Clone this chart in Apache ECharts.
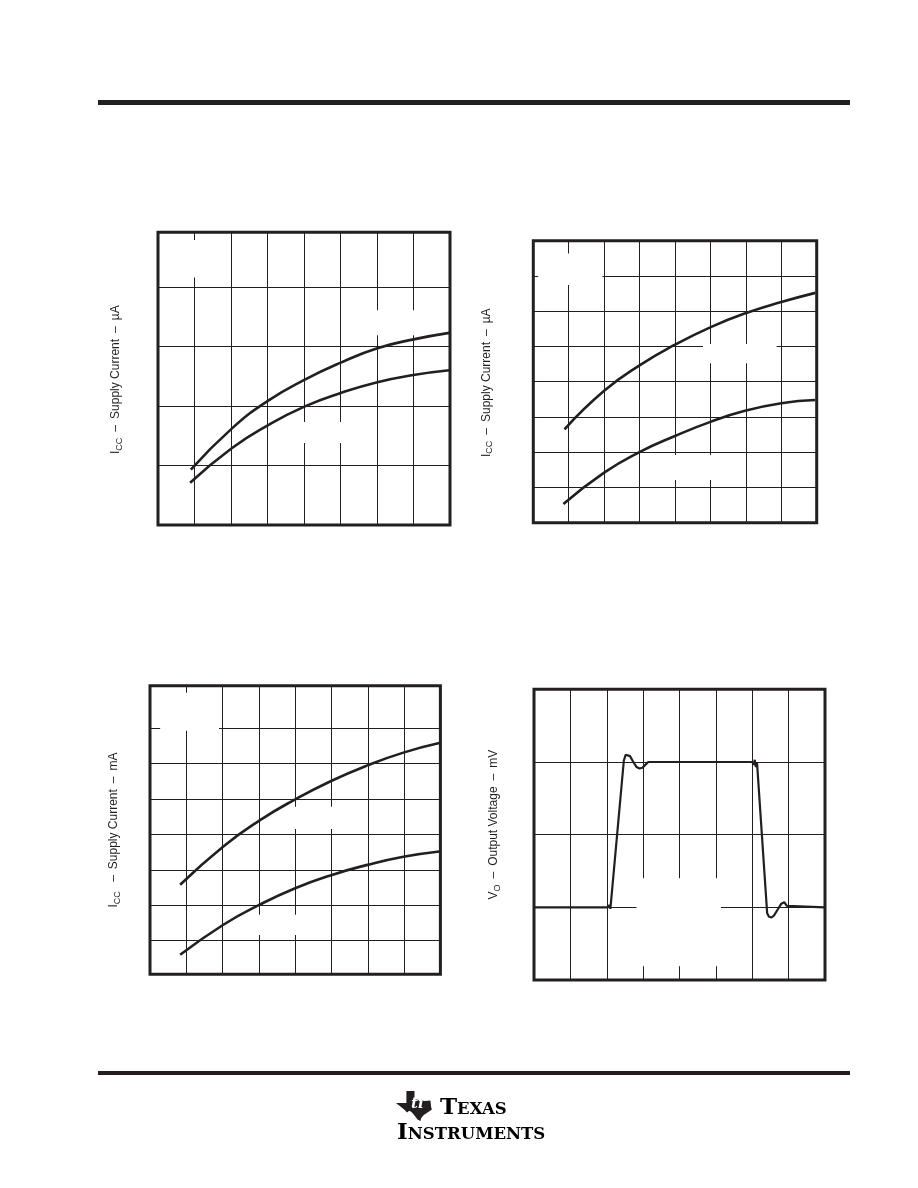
<!DOCTYPE html>
<html><head><meta charset="utf-8">
<script src="https://cdn.jsdelivr.net/npm/echarts@6/dist/echarts.min.js"></script>
<style>html,body{margin:0;padding:0;background:#fff}#c{width:918px;height:1188px}</style>
</head><body><div id="c"></div>
<script>
const ink = '#231f20';

// ---- Chart 1 (top-left): ICC – µA, two curves (x,y in grid divisions)
const c1Upper = [[0.9,0.93],[2.02,1.62],[3.02,2.09],[4.01,2.44],[5.01,2.73],[6.01,2.97],[7.0,3.12],[7.98,3.23]];
const c1Lower = [[0.88,0.71],[2.02,1.29],[3.02,1.68],[4.01,1.99],[5.01,2.22],[6.01,2.4],[7.0,2.52],[7.98,2.6]];
// ---- Chart 2 (top-right): ICC – µA
const c2Upper = [[0.88,2.65],[2.0,3.74],[3.01,4.47],[4.0,5.05],[5.01,5.55],[6.01,5.95],[7.0,6.26],[7.96,6.52]];
const c2Lower = [[0.85,0.53],[2.0,1.42],[3.01,2.01],[4.0,2.46],[5.0,2.86],[6.0,3.18],[7.0,3.39],[7.96,3.48]];
// ---- Chart 3 (bottom-left): ICC – mA
const c3Upper = [[0.83,2.58],[2.02,3.66],[3.01,4.39],[4.0,4.99],[4.99,5.51],[5.99,5.95],[6.98,6.31],[7.97,6.58]];
const c3Lower = [[0.83,0.6],[2.02,1.45],[3.01,2.01],[4.0,2.48],[4.99,2.85],[5.99,3.14],[6.98,3.37],[7.97,3.52]];
const c3HLines = [1,2,3,4,5,6,7];
// ---- Chart 4 (bottom-right): VO – mV pulse response
const c4Pulse = [[0,1.0],[2.03,1.0],[2.07,1.03],[2.1,0.98],[2.13,1.0],[2.47,3.02],[2.52,3.1],[2.57,3.12],[2.64,3.08],[2.73,3.0],[2.82,2.93],[2.9,2.91],[2.98,2.92],[3.06,2.96],[3.14,3.0],[6.0,3.0],[6.04,2.96],[6.07,3.03],[6.1,2.93],[6.13,3.0],[6.41,0.92],[6.46,0.87],[6.53,0.86],[6.6,0.89],[6.7,0.97],[6.8,1.05],[6.88,1.07],[6.95,1.02],[7.0,1.0],[8,1.0]];

// axis extents (grid divisions) and y-axis titles
const yMins = [0, 0, 0.05, 0];
const yMaxes = [4.92, 8, 8.2, 4];
const sp = '\u2002';
const yTitles = [
  '{a|I}{s|CC}{a|' + sp + '–' + sp + 'Supply Current' + sp + '–' + sp + 'µA}',
  '{a|I}{s|CC}{a|' + sp + '–' + sp + 'Supply Current' + sp + '–' + sp + 'µA}',
  '{a|I}{s|CC}{a|' + sp + ' –' + sp + 'Supply Current' + sp + '–' + sp + 'mA}',
  '{a|V}{s|O}{a|' + sp + '–' + sp + 'Output Voltage' + sp + '–' + sp + 'mV}'
];
// blanked label areas inside plots [x0,y0,x1,y1] in grid divisions
const blank1 = [[0.3,4.16,1.7,4.79],[5.7,3.19,7.3,3.61],[3.6,1.38,5.4,1.73]];
const blank2 = [[0.14,6.74,1.95,7.64],[4.79,4.52,6.87,5.07],[3.6,1.21,5.4,1.92]];
const blank3 = [[0.28,6.93,1.9,8.0],[3.75,4.15,5.3,4.78],[2.7,1.16,4.3,1.73]];
const blank4 = [[2.82,0.19,5.14,1.4]];

const grids = [
  {left:158, top:232.3, width:292, height:292.7},
  {left:533.3, top:240.7, width:283.4, height:282},
  {left:150, top:685.7, width:290.4, height:288.6},
  {left:534, top:689.3, width:291, height:290.7}
];
const nameGaps = [35, 40, 29, 33];
const namePads = [[0,2,0,0],[0,2,0,0],[0,0,0,0],[0,0,0,20]];

const rich = {
  a: {fontFamily:'Liberation Sans', fontSize:12, color:ink, verticalAlign:'top', lineHeight:13},
  s: {fontFamily:'Liberation Sans', fontSize:9, color:ink, verticalAlign:'top', lineHeight:10, padding:[5,0,0,0]}
};

const splitStyle = {show:true, lineStyle:{color:ink, width:1, opacity:1}};
const xAxes = grids.map((g,i)=>({gridIndex:i, type:'value', min:0, max:8, interval:1,
  axisLine:{show:false}, axisTick:{show:false}, axisLabel:{show:false}, splitLine:splitStyle}));
const yAxes = grids.map((g,i)=>({gridIndex:i, type:'value', min:yMins[i], max:yMaxes[i], interval:1,
  axisLine:{show:false}, axisTick:{show:false}, axisLabel:{show:false},
  splitLine: i === 2 ? {show:false} : splitStyle,
  name:yTitles[i], nameLocation:'middle', nameGap:nameGaps[i], nameRotate:90,
  nameTextStyle:{rich:rich, padding:namePads[i]}}));

const toMark = b => b.map(r => [{xAxis:r[0], yAxis:r[1]}, {xAxis:r[2], yAxis:r[3]}]);
const blankArea = b => ({silent:true, z:1.5, label:{show:false}, itemStyle:{color:'#fff', opacity:1, borderWidth:0},
  emphasis:{disabled:true}, data:toMark(b)});

function curve(data, gi, width, smooth, blanks){
  const s = {type:'line', data:data, xAxisIndex:gi, yAxisIndex:gi, showSymbol:false, symbol:'none',
    smooth:smooth, lineStyle:{color:ink, width:width}, silent:true, z:2};
  if (blanks) s.markArea = blankArea(blanks);
  return s;
}

const s3 = curve(c3Upper,2,2.6,0.5,blank3);
s3.markLine = {silent:true, symbol:['none','none'], z:1, label:{show:false},
  lineStyle:{type:'solid', color:ink, width:1, opacity:1}, emphasis:{disabled:true},
  data:c3HLines.map(v=>({yAxis:v}))};

const chart = echarts.init(document.getElementById('c'), null, {renderer:'canvas'});
chart.setOption({
  animation:false,
  backgroundColor:'#fff',
  grid: grids.map(g=>Object.assign({show:true, borderColor:ink, borderWidth:3, backgroundColor:'transparent', containLabel:false}, g)),
  xAxis: xAxes,
  yAxis: yAxes,
  series: [
    curve(c1Upper,0,2.6,0.5,blank1), curve(c1Lower,0,2.6,0.5),
    curve(c2Upper,1,2.6,0.5,blank2), curve(c2Lower,1,2.6,0.5),
    s3, curve(c3Lower,2,2.6,0.5),
    curve(c4Pulse,3,2.2,false,blank4)
  ],
  graphic: [
    {type:'rect', shape:{x:98, y:100, width:752, height:5}, style:{fill:ink}, silent:true},
    {type:'rect', shape:{x:98, y:1071, width:752, height:4}, style:{fill:ink}, silent:true},
    {type:'group', x:396, y:1091, silent:true, children:[
      {type:'polygon', shape:{points:[[10.4,0],[18.5,0],[18.5,8.1],[22.9,9],[28.9,9.9],[34.4,9.6],[35.2,16.5],[35.9,18.6],[31.5,21.6],[27.8,24],[25.2,27],[24.4,30],[21.5,28.5],[18.5,24.6],[15.5,21],[13.3,19.8],[11.1,21.6],[8.1,18.6],[4.4,15.6],[0,12],[10.4,12]]}, style:{fill:ink}},
      {type:'text', x:15, y:6, style:{text:'ti', fill:'#fff', font:'italic bold 15px "DejaVu Serif"'}}
    ]},
    {type:'text', x:440, y:1120, silent:true, style:{text:'{b|T}{s|EXAS}', verticalAlign:'bottom', rich:{
      b:{fontFamily:'DejaVu Serif', fontWeight:'bold', fontSize:23, color:ink, verticalAlign:'bottom'},
      s:{fontFamily:'DejaVu Serif', fontWeight:'bold', fontSize:16.5, color:ink, verticalAlign:'bottom', padding:[0,0,1.5,0]}}}},
    {type:'text', x:397, y:1145, silent:true, style:{text:'{b|I}{s|NSTRUMENTS}', verticalAlign:'bottom', rich:{
      b:{fontFamily:'DejaVu Serif', fontWeight:'bold', fontSize:23, color:ink, verticalAlign:'bottom'},
      s:{fontFamily:'DejaVu Serif', fontWeight:'bold', fontSize:16.5, color:ink, verticalAlign:'bottom', padding:[0,0,1.5,0]}}}}
  ]
});
</script></body></html>
